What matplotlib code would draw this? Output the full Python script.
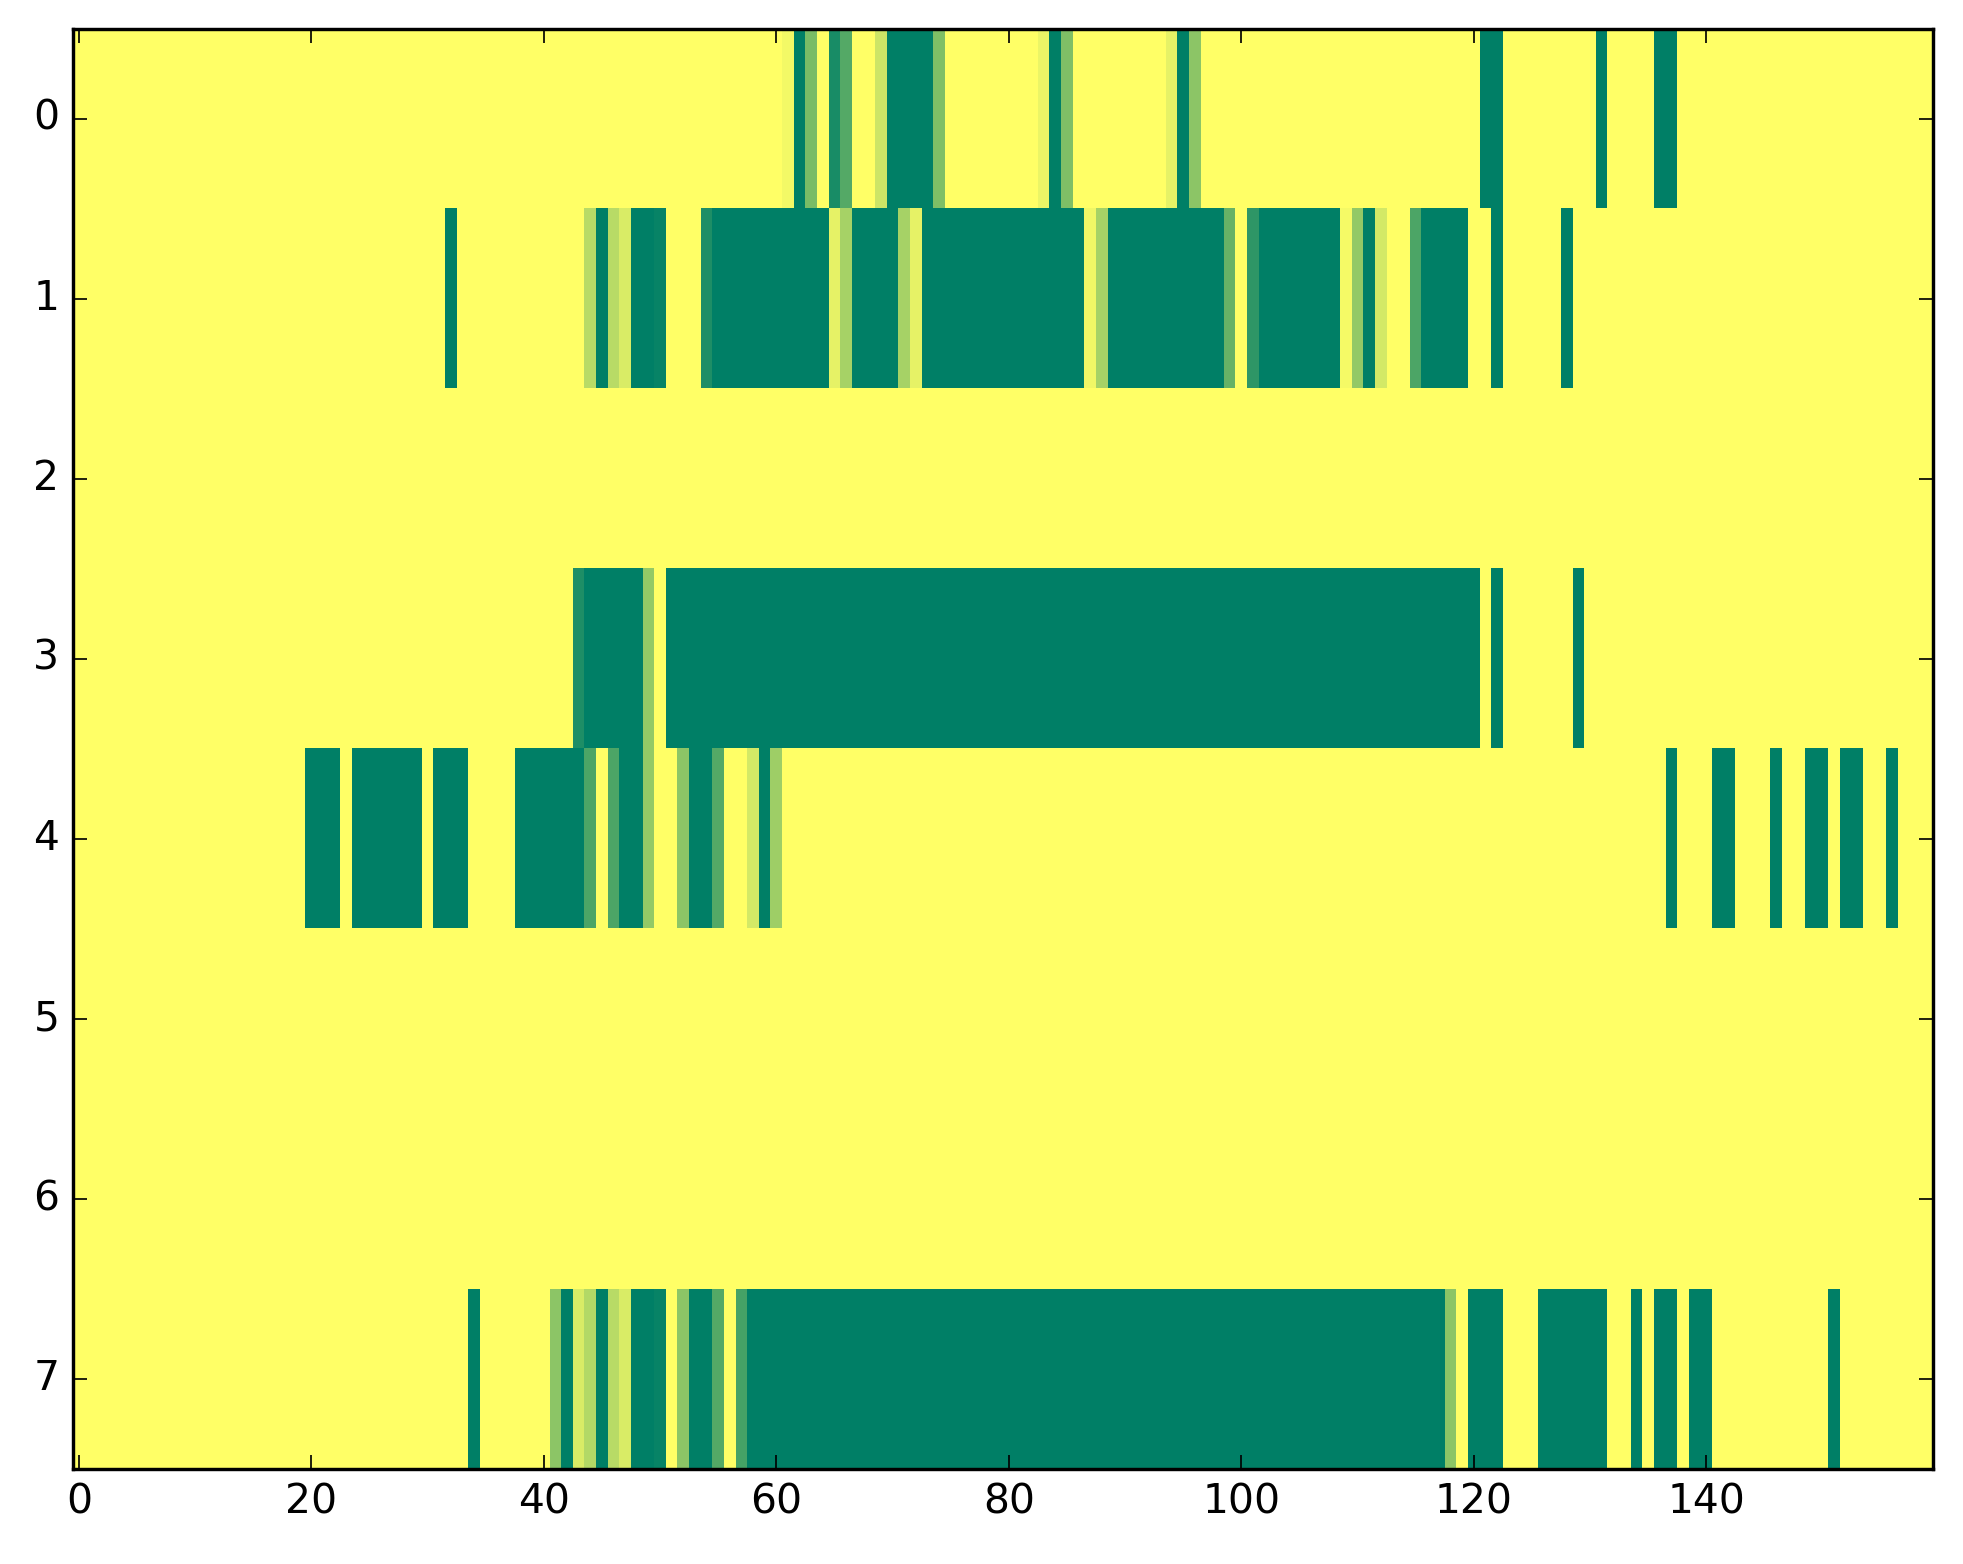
import numpy as np
import matplotlib
matplotlib.use('Agg')
import matplotlib.pyplot as plt

plt.style.use('classic')

n_rows = 8
n_cols = 160

# runs of (first column, last column, value) for each row; the rest is 0
row0 = [(61, 61, 0.05), (62, 62, 1.0), (63, 63, 0.52), (65, 65, 0.9),
        (66, 66, 0.67), (69, 69, 0.2), (70, 73, 1.0), (74, 74, 0.5),
        (83, 83, 0.08), (84, 84, 1.0), (85, 85, 0.5), (94, 94, 0.1),
        (95, 95, 1.0), (96, 96, 0.45), (121, 122, 1.0), (131, 131, 1.0),
        (136, 137, 1.0)]
row1 = [(32, 32, 1.0), (44, 44, 0.28), (45, 45, 1.0), (46, 46, 0.28),
        (47, 47, 0.15), (48, 49, 1.0), (50, 50, 0.97), (54, 54, 0.88),
        (55, 64, 1.0), (65, 65, 0.1), (66, 66, 0.35), (67, 70, 1.0),
        (71, 71, 0.35), (72, 72, 0.1), (73, 86, 1.0), (87, 87, 0.06),
        (88, 88, 0.35), (89, 98, 1.0), (99, 99, 0.6), (101, 101, 0.82),
        (102, 108, 1.0), (109, 109, 0.04), (110, 110, 0.42), (111, 111, 1.0),
        (112, 112, 0.17), (115, 115, 0.7), (116, 119, 1.0), (122, 122, 1.0),
        (128, 128, 1.0)]
row2 = []
row3 = [(43, 43, 0.88), (44, 48, 1.0), (49, 49, 0.42), (51, 120, 1.0),
        (122, 122, 1.0), (129, 129, 1.0)]
row4 = [(20, 22, 1.0), (24, 29, 1.0), (31, 33, 1.0), (38, 43, 1.0),
        (44, 44, 0.7), (46, 46, 0.7), (47, 48, 1.0), (49, 49, 0.42),
        (52, 52, 0.45), (53, 54, 1.0), (55, 55, 0.67), (58, 58, 0.17),
        (59, 59, 1.0), (60, 60, 0.38), (137, 137, 1.0), (141, 142, 1.0),
        (146, 146, 1.0), (149, 150, 1.0), (152, 153, 1.0), (156, 156, 1.0)]
row5 = []
row6 = []
row7 = [(34, 34, 1.0), (41, 41, 0.45), (42, 42, 1.0), (43, 43, 0.15),
        (44, 44, 0.3), (45, 45, 1.0), (46, 46, 0.28), (47, 47, 0.15),
        (48, 49, 1.0), (50, 50, 0.97), (52, 52, 0.45), (53, 54, 1.0),
        (55, 55, 0.67), (57, 57, 0.73), (58, 117, 1.0), (118, 118, 0.45),
        (120, 122, 1.0), (126, 131, 1.0), (134, 134, 1.0), (136, 137, 1.0),
        (139, 140, 1.0), (151, 151, 1.0)]

rows = [row0, row1, row2, row3, row4, row5, row6, row7]

data = np.zeros((n_rows, n_cols))
for r, runs in enumerate(rows):
    for a, b, v in runs:
        data[r, a:b + 1] = v

fig = plt.figure(figsize=(8, 6.374), dpi=245.375, facecolor='white')
ax = fig.add_axes([0.0372, 0.0607, 0.9475, 0.9208])

ax.imshow(data, cmap='summer_r', vmin=0, vmax=1,
          interpolation='nearest', aspect='auto')

ax.set_xticks(np.arange(0, 141, 20))
ax.set_yticks(np.arange(0, 8))
ax.tick_params(labelsize=12)

fig.savefig('out.png', dpi=245.375, facecolor='white')
